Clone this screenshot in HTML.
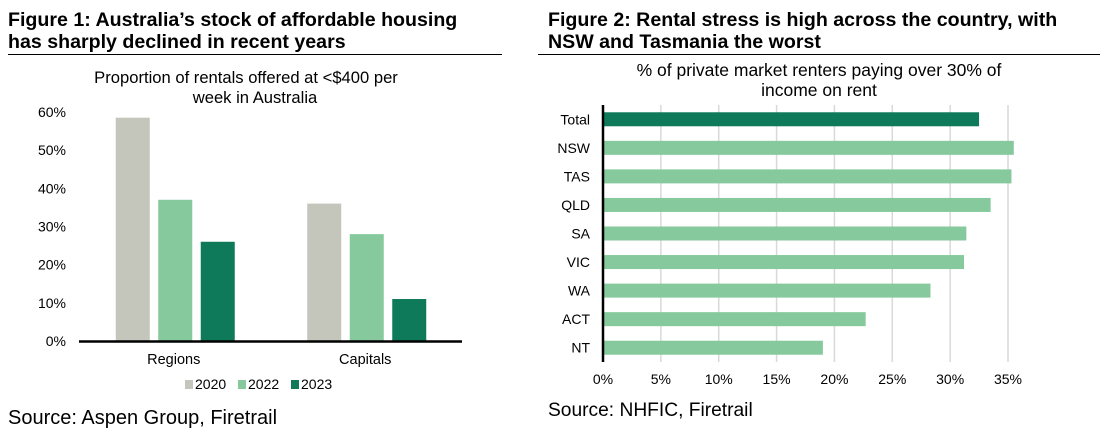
<!DOCTYPE html>
<html><head><meta charset="utf-8"><style>
body{margin:0;width:1106px;height:439px;background:#fff;font-family:"Liberation Sans",Arial,sans-serif;overflow:hidden}
svg{display:block}
</style></head><body>
<svg width="1106" height="439">
<g font-family="Liberation Sans, Arial, sans-serif">
<text x="8" y="26" font-size="19.6" font-weight="bold" fill="#000">Figure 1: Australia’s stock of affordable housing</text>
<text x="8" y="48" font-size="19.6" font-weight="bold" fill="#000">has sharply declined in recent years</text>
<line x1="8" y1="54.5" x2="502" y2="54.5" stroke="#000" stroke-width="1"/>
<text x="548" y="26" font-size="19.6" font-weight="bold" fill="#000">Figure 2: Rental stress is high across the country, with</text>
<text x="548" y="48" font-size="19.6" font-weight="bold" fill="#000">NSW and Tasmania the worst</text>
<line x1="538" y1="54.5" x2="1100" y2="54.5" stroke="#000" stroke-width="1"/>
<text x="246" y="83" font-size="16.6" text-anchor="middle">Proportion of rentals offered at &lt;$400 per</text>
<text x="255" y="103" font-size="16.6" text-anchor="middle">week in Australia</text>
<text x="819" y="76" font-size="17.5" text-anchor="middle">% of private market renters paying over 30% of</text>
<text x="819" y="96" font-size="17.5" text-anchor="middle">income on rent</text>
<text x="8" y="424" font-size="20">Source: Aspen Group, Firetrail</text>
<text x="548" y="416" font-size="19.2">Source: NHFIC, Firetrail</text>
<g id="c1"></g>
<g id="c2"></g>
</g>
</svg>
<script>
const c1Categories = ["Regions", "Capitals"];
const c1Series = ["2020", "2022", "2023"];
const c1Values2020 = [58.5, 36];
const c1Values2022 = [37, 28];
const c1Values2023 = [26, 11];
const c1Ticks = [0, 10, 20, 30, 40, 50, 60];

const c2Categories = ["Total", "NSW", "TAS", "QLD", "SA", "VIC", "WA", "ACT", "NT"];
const c2Values = [32.5, 35.5, 35.3, 33.5, 31.4, 31.2, 28.3, 22.7, 19.0];
const c2Ticks = [0, 5, 10, 15, 20, 25, 30, 35];

const NS = "http://www.w3.org/2000/svg";
function mk(parent, tag, attrs, text) {
  const e = document.createElementNS(NS, tag);
  for (const k in attrs) e.setAttribute(k, attrs[k]);
  if (text !== undefined) e.textContent = text;
  parent.appendChild(e);
  return e;
}
const colors = ["#c4c5bb", "#85c99c", "#0e7a5a"];

// Chart 1
(function () {
  const g = document.getElementById("c1");
  const y = v => 341 - v * (229 / 60);
  const x0 = 79, x1 = 462, groupW = (x1 - x0) / c1Categories.length;
  c1Ticks.forEach(t => {
    const tx = mk(g, "text", { x: 66, y: y(t) + 5, "font-size": 14, "text-anchor": "end" }, t + "%");
    
    
  });
  const seriesVals = [c1Values2020, c1Values2022, c1Values2023];
  c1Categories.forEach((c, i) => {
    const cx = x0 + groupW * (i + 0.5);
    seriesVals.forEach((arr, s) => {
      const bx = cx - 59 + s * 42.5;
      const r = mk(g, "rect", { x: bx, y: y(arr[i]), width: 34, height: y(0) - y(arr[i]), fill: colors[s] });
      
      
    });
    const lt = mk(g, "text", { x: cx - 1, y: 364, "font-size": 14.5, "text-anchor": "middle" }, c);
    
    
  });
  const ax = mk(g, "line", { x1: x0, y1: 341.5, x2: x1, y2: 341.5, stroke: "#000", "stroke-width": 2.5 });
  
  
  c1Series.forEach((s, i) => {
    const lx = 185 + i * 53;
    const sw = mk(g, "rect", { x: lx, y: 380, width: 8, height: 9, fill: colors[i] });
    
    
    const lt = mk(g, "text", { x: lx + 10, y: 389, "font-size": 14 }, s);
    
    
  });
})();

// Chart 2
(function () {
  const g = document.getElementById("c2");
  const x = v => 603 + v * (405 / 35);
  const top = 105, bottom = 362;
  const rowH = (bottom - top) / c2Categories.length;
  c2Ticks.forEach(t => {
    if (t > 0) {
      const gl = mk(g, "line", { x1: x(t), y1: top, x2: x(t), y2: bottom, stroke: "#d9d9d9", "stroke-width": 1.5 });
      
      
    }
    const tx = mk(g, "text", { x: x(t), y: 384, "font-size": 14, "text-anchor": "middle" }, t + "%");
    
    
  });
  c2Categories.forEach((c, i) => {
    const cy = top + rowH * (i + 0.5);
    const r = mk(g, "rect", { x: x(0), y: cy - 7, width: x(c2Values[i]) - x(0), height: 14, fill: i === 0 ? colors[2] : colors[1] });
    
    
    const lt = mk(g, "text", { x: 590, y: cy + 5, "font-size": 14, "text-anchor": "end" }, c);
    
    
  });
  const ax = mk(g, "line", { x1: 603, y1: top, x2: 603, y2: bottom, stroke: "#000", "stroke-width": 2.5 });
  
  
})();
</script>
</body></html>
